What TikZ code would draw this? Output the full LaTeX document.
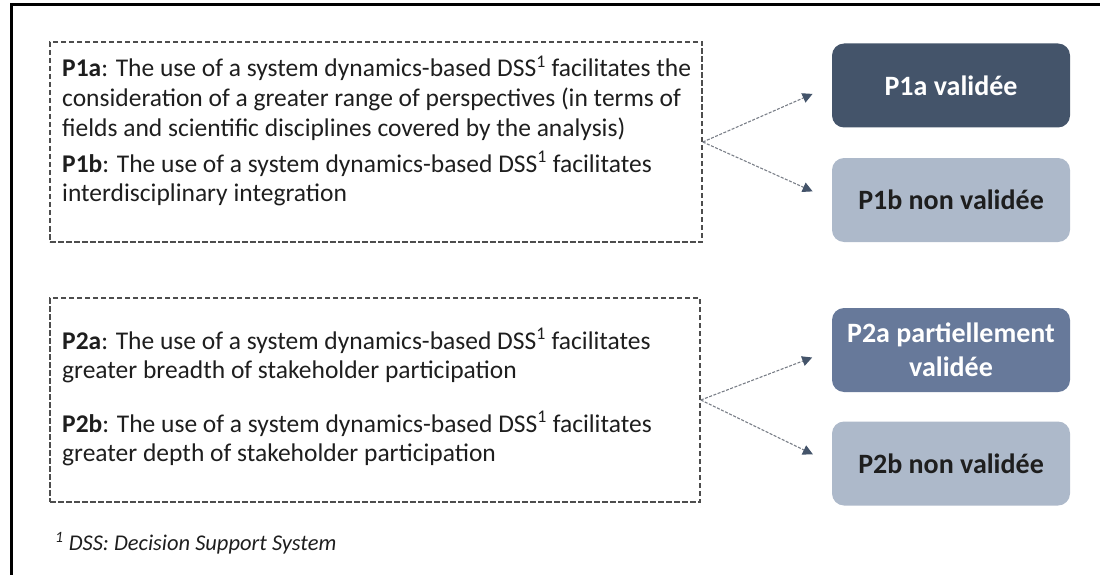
\documentclass[tikz,border=0pt]{standalone}
\usepackage{fontspec}
\setmainfont{Carlito}
\usetikzlibrary{arrows.meta}
\definecolor{navy}{HTML}{44546A}
\definecolor{midblue}{HTML}{67799A}
\definecolor{lightblue}{HTML}{ADB9CA}
\definecolor{txt}{HTML}{1E1E1E}
\definecolor{dashgray}{HTML}{4D4D4D}
\definecolor{linkgray}{HTML}{7A7F88}
\begin{document}
\begin{tikzpicture}[x=1pt,y=-1pt,
  dbox/.style={draw=dashgray, line width=1.6pt, dash pattern=on 5.5pt off 2.5pt, inner sep=0pt},
  para/.style={anchor=base west, inner sep=0pt, text=txt, font=\fontsize{25.5pt}{29.5pt}\selectfont},
  result/.style={rounded corners=12pt, minimum width=238pt, minimum height=84pt, align=center, inner sep=0pt, font=\fontsize{28pt}{34pt}\selectfont\bfseries},
  dark/.style={result, fill=navy, text=white},
  mid/.style={result, fill=midblue, text=white},
  light/.style={result, fill=lightblue, text=txt},
  link/.style={draw=linkgray, line width=1.1pt, dash pattern=on 3pt off 1.5pt, shorten >=21pt,
    -{Triangle[length=10pt,width=10pt,fill=navy,color=navy]}}
]
\useasboundingbox (0,0) rectangle (1100,575);
\draw[line width=3pt, black] (1100,5) -- (11,5) -- (11,575);

% left dashed boxes
\node[dbox, minimum width=652pt, minimum height=200pt] (b1) at (376,142) {};
\node[dbox, minimum width=650pt, minimum height=204pt] (b2) at (375,400) {};

% paragraphs
\node[para] (t1a1) at (62,77) {\textbf{P1a}: The use of a system dynamics-based DSS\textsuperscript{1} facilitates the};
\node[para] (t1a2) at (62,106.5) {consideration of a greater range of perspectives (in terms of};
\node[para] (t1a3) at (62,136) {fields and scientific disciplines covered by the analysis)};
\node[para] (t1b1) at (62,172) {\textbf{P1b}: The use of a system dynamics-based DSS\textsuperscript{1} facilitates};
\node[para] (t1b2) at (62,201.5) {interdisciplinary integration};
\node[para] (t2a1) at (62,349) {\textbf{P2a}: The use of a system dynamics-based DSS\textsuperscript{1} facilitates};
\node[para] (t2a2) at (62,378.5) {greater breadth of stakeholder participation};
\node[para] (t2b1) at (62,432) {\textbf{P2b}: The use of a system dynamics-based DSS\textsuperscript{1} facilitates};
\node[para] (t2b2) at (62,461.5) {greater depth of stakeholder participation};

% results
\node[dark]  (p1a) at (951,85.5) {P1a validée};
\node[light] (p1b) at (951,200) {P1b non validée};
\node[mid]   (p2a) at (951,350) {P2a partiellement\\validée};
\node[light] (p2b) at (951,463.5) {P2b non validée};

% connectors
\draw[link] (b1.east) -- (p1a.west);
\draw[link] (b1.east) -- (p1b.west);
\draw[link] (b2.east) -- (p2a.west);
\draw[link] (b2.east) -- (p2b.west);

% footnote
\node[anchor=base west, inner sep=0pt, text=txt, font=\fontsize{22.5pt}{26pt}\selectfont\itshape] (fn) at (55,550) {\textsuperscript{1} DSS: Decision Support System};
\end{tikzpicture}
\end{document}
